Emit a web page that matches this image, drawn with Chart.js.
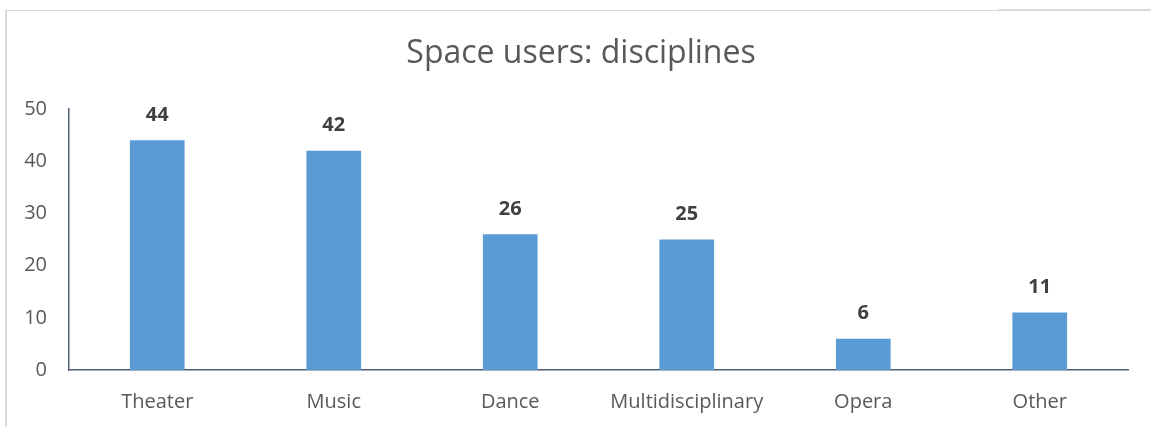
<!DOCTYPE html>
<html>
<head>
<meta charset="utf-8">
<script src="https://cdn.jsdelivr.net/npm/chart.js@4/dist/chart.umd.min.js"></script>
<style>
    html, body { margin: 0; padding: 0; background: #fff; }
    #wrap { position: relative; width: 1151px; height: 427px; overflow: hidden; }
    .frame { position: absolute; background: #d9d9d9; }
    canvas { position: absolute; left: 0; top: 0; }
</style>
</head>
<body>
<div id="wrap">
    <div class="frame" style="left:5px; top:10px; width:2px; height:417px;"></div>
    <div class="frame" style="left:5px; top:10px; width:995px; height:1px;"></div>
    <div class="frame" style="left:999px; top:9px; width:152px; height:2px;"></div>
    <canvas id="chart" width="1151" height="427"></canvas>
</div>
<script>
const categories = ['Theater', 'Music', 'Dance', 'Multidisciplinary', 'Opera', 'Other'];
const users = [44, 42, 26, 25, 6, 11];
const yTicks = [0, 10, 20, 30, 40, 50];
const chartTitle = 'Space users: disciplines';

const FONT = "'Open Sans', 'Liberation Sans', sans-serif";
const AXIS_COLOR = '#4f5e75';

// title centred on the whole frame, not just the plot area
const frameTitle = {
    id: 'frameTitle',
    afterDraw(chart) {
        const ctx = chart.ctx;
        ctx.save();
        ctx.font = "32px " + FONT;
        ctx.fillStyle = '#595959';
        ctx.textAlign = 'center';
        ctx.textBaseline = 'alphabetic';
        ctx.fillText(chartTitle, 581, 63);
        ctx.restore();
    }
};

// draws the bold value above each bar
const valueLabels = {
    id: 'valueLabels',
    afterDatasetsDraw(chart) {
        const ctx = chart.ctx;
        const meta = chart.getDatasetMeta(0);
        ctx.save();
        ctx.font = "bold 20px " + FONT;
        ctx.fillStyle = '#404040';
        ctx.textAlign = 'center';
        ctx.textBaseline = 'middle';
        meta.data.forEach((bar, i) => {
            ctx.fillText(users[i], bar.x, bar.y - 25);
        });
        ctx.restore();
    }
};

new Chart(document.getElementById('chart'), {
    type: 'bar',
    data: {
        labels: categories,
        datasets: [{
            label: 'Space users',
            data: users,
            backgroundColor: '#5b9bd5',
            barPercentage: 0.62,
            categoryPercentage: 0.5
        }]
    },
    options: {
        responsive: false,
        animation: false,
        layout: { padding: { left: 0, right: 23, top: 109, bottom: 0 } },
        plugins: {
            legend: { display: false },
            tooltip: { enabled: false },
            title: { display: false }
        },
        scales: {
            x: {
                grid: { display: false, drawTicks: false },
                border: { display: true, color: AXIS_COLOR, width: 1.5 },
                ticks: { color: '#595959', font: { family: FONT, size: 20 }, padding: 20 },
                afterFit: s => { s.height = 57; }
            },
            y: {
                min: 0,
                max: 50,
                afterBuildTicks: s => { s.ticks = yTicks.map(v => ({ value: v })); },
                grid: { display: false, drawTicks: false },
                border: { display: true, color: AXIS_COLOR, width: 1.5 },
                ticks: { color: '#595959', font: { family: FONT, size: 20 }, padding: 22 },
                afterFit: s => { s.width = 69; }
            }
        }
    },
    plugins: [valueLabels, frameTitle]
});
</script>
</body>
</html>
